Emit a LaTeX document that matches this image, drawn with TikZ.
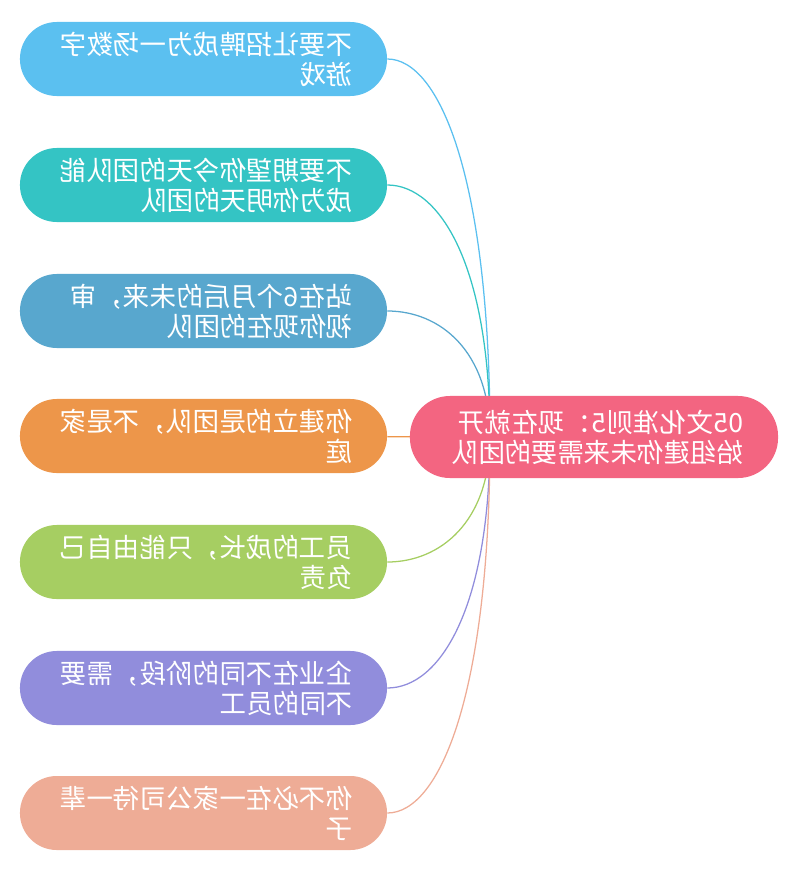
\documentclass[tikz,border=0pt]{standalone}
\usepackage{fontspec}
\newfontfamily\cjk{Noto Sans CJK SC}
\XeTeXlinebreaklocale "zh"
\XeTeXlinebreakskip=0pt plus 1pt
\usepackage{tikz}
\usetikzlibrary{calc}
\definecolor{azul}{RGB}{91,192,240}
\definecolor{turquesa}{RGB}{52,196,196}
\definecolor{acero}{RGB}{88,167,206}
\definecolor{naranja}{RGB}{237,150,74}
\definecolor{verde}{RGB}{166,206,98}
\definecolor{lila}{RGB}{145,141,220}
\definecolor{salmon}{RGB}{238,172,150}
\definecolor{rosa}{RGB}{243,101,129}

\begin{document}
\begin{tikzpicture}[
        x=0.025cm, y=-0.025cm, % 1 unidad = 1 px de la imagen
        font=\cjk\fontsize{18.8}{21.3}\selectfont,
        tema/.style={fill=#1, text=white, rounded corners=0.92cm,
            minimum width=9.175cm, minimum height=1.85cm,
            text width=7.45cm, align=left, inner sep=0pt,
            xscale=-1}, % Estilo para las cajas (espejadas)
        rama/.style={draw=#1, line width=0.9pt} % Estilo para las ramas
    ]
        \useasboundingbox (0,0) rectangle (800,873);

        % --- Cajas de la izquierda ---
        \node[tema=azul] (juego) at (203.5,59) {不要让招聘成为一场数字游戏};
        \node[tema=turquesa] (manana) at (203.5,185) {不要期望你今天的团队能成为你明天的团队};
        \node[tema=acero] (futuro) at (203.5,311) {站在6个月后的未来，审视你现在的团队};
        \node[tema=naranja] (familia) at (203.5,436) {你建立的是团队，不是家庭};
        \node[tema=verde] (crecer) at (203.5,562) {员工的成长，只能由自己负责};
        \node[tema=lila] (etapas) at (203.5,688) {企业在不同的阶段，需要不同的员工};
        \node[tema=salmon] (empresa) at (203.5,813) {你不必在一家公司待一辈子};

        % --- Ramas hacia el nudo central ---
        \coordinate (nudo) at (490,437);
        \draw[rama=azul] (juego) .. controls (440,59) and (490,180) .. (nudo);
        \draw[rama=turquesa] (manana) .. controls (440,185) and (490,266) .. (nudo);
        \draw[rama=acero] (futuro) .. controls (440,311) and (490,351) .. (nudo);
        \draw[rama=naranja] (familia) -- (nudo);
        \draw[rama=verde] (crecer) .. controls (440,562) and (490,522) .. (nudo);
        \draw[rama=lila] (etapas) .. controls (440,688) and (490,608) .. (nudo);
        \draw[rama=salmon] (empresa) .. controls (440,813) and (490,693) .. (nudo);

        % --- Caja central (tapa el nudo) ---
        \node[tema=rosa, minimum width=9.2cm, minimum height=2.05cm,
            rounded corners=1cm] (raiz) at (594,437)
            {05文化准则5：现在就开始组建你未来需要的团队};

    \end{tikzpicture}
\end{document}
